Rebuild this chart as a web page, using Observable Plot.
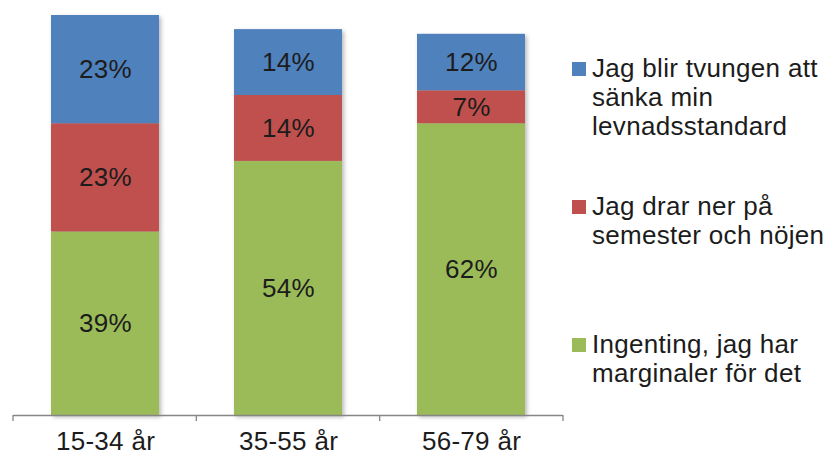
<!DOCTYPE html>
<html>
<head>
<meta charset="utf-8">
<script src="https://cdn.jsdelivr.net/npm/d3@7"></script>
<script src="https://cdn.jsdelivr.net/npm/@observablehq/plot@0.6"></script>
<style>
  html, body { margin: 0; padding: 0; background: #ffffff; }
  #wrap { position: relative; width: 824px; height: 457px; font-family: "Liberation Sans", Arial, sans-serif; }
  #wrap svg g[aria-label="bar"] { filter: drop-shadow(2px 2px 2px rgba(0,0,0,0.28)); }
  #wrap svg text { letter-spacing: 0.3px; }
  .leg { position: absolute; left: 572px; font-size: 26px; line-height: 29px; color: #1c1c1c; letter-spacing: 0.3px; }
  .leg .sw { position: absolute; left: 0; top: 8px; width: 14px; height: 14px; }
  .leg .tx { margin-left: 20px; white-space: nowrap; }
</style>
</head>
<body>
<div id="wrap"></div>
<script>
const categories = ["15-34 år", "35-55 år", "56-79 år"];
const seriesNames = [
  "Ingenting, jag har marginaler för det",
  "Jag drar ner på semester och nöjen",
  "Jag blir tvungen att sänka min levnadsstandard"
];
const ingenting = [39, 54, 62];
const drarNer = [23, 14, 7];
const sanka = [23, 14, 12];
const seriesColors = ["#9BBB59", "#C0504D", "#4F81BD"];
// legend order (top to bottom) with its line breaks
const legendOrder = [2, 1, 0];
const legendLines = [
  ["Ingenting, jag har", "marginaler för det"],
  ["Jag drar ner på", "semester och nöjen"],
  ["Jag blir tvungen att", "sänka min", "levnadsstandard"]
];

const seriesValues = [ingenting, drarNer, sanka];
const data = [];
seriesNames.forEach((s, si) => {
  categories.forEach((c, ci) => {
    data.push({category: c, series: s, value: seriesValues[si][ci]});
  });
});

// category boundary ticks below the baseline
function boundaryTicks(index, scales, values, dimensions) {
  const {width, height, marginLeft, marginRight, marginBottom} = dimensions;
  const n = categories.length;
  const step = (width - marginLeft - marginRight) / n;
  const y0 = height - marginBottom;
  const g = d3.create("svg:g").attr("stroke", "#868686").attr("stroke-width", 1.3);
  for (let i = 0; i <= n; i++) {
    const xx = marginLeft + i * step;
    g.append("line").attr("x1", xx).attr("x2", xx).attr("y1", y0).attr("y2", y0 + 6);
  }
  return g.node();
}

const chart = Plot.plot({
  width: 824,
  height: 457,
  marginTop: 15,
  marginBottom: 42,
  marginLeft: 13,
  marginRight: 261,
  style: {fontSize: "26px", fontFamily: "'Liberation Sans', Arial, sans-serif", color: "#1c1c1c", background: "transparent"},
  x: {domain: categories, paddingInner: 0.41, paddingOuter: 0.205, tickSize: 0, tickPadding: 16, label: null},
  y: {domain: [0, 85], axis: null},
  color: {domain: seriesNames, range: seriesColors},
  marks: [
    Plot.barY(data, Plot.stackY({x: "category", y: "value", fill: "series", order: null})),
    Plot.text(data, Plot.stackY({x: "category", y: "value", z: "series", order: null, text: d => d.value + "%", fill: "#1c1c1c"})),
    Plot.ruleY([0], {stroke: "#868686", strokeWidth: 1.3}),
    boundaryTicks
  ]
});

const wrap = document.getElementById("wrap");
wrap.appendChild(chart);

const legendTops = [54, 192, 330];
legendOrder.forEach((si, k) => {
  const item = document.createElement("div");
  item.className = "leg";
  item.style.top = legendTops[k] + "px";
  const sw = document.createElement("div");
  sw.className = "sw";
  sw.style.background = seriesColors[si];
  const tx = document.createElement("div");
  tx.className = "tx";
  tx.innerHTML = legendLines[si].map(l => l.replace(/&/g, "&amp;")).join("<br>");
  item.appendChild(sw);
  item.appendChild(tx);
  wrap.appendChild(item);
});
</script>
</body>
</html>
